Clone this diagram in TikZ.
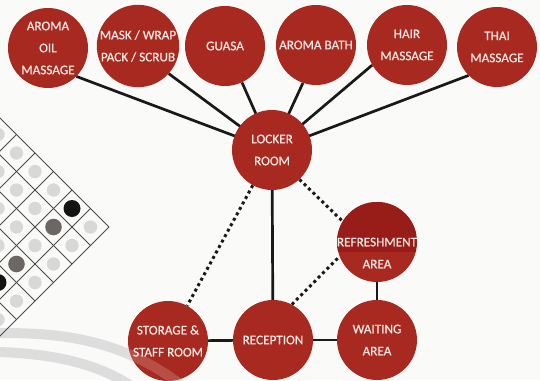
\documentclass[tikz,border=0pt]{standalone}
\usepackage{fontspec}
\newfontfamily\lbl[FakeBold=0.7]{Carlito}
\definecolor{spared}{HTML}{A8291F}
\definecolor{spadark}{HTML}{981C18}
\definecolor{labeltext}{HTML}{F4E6E2}
\definecolor{paper}{HTML}{FAFAF8}
\definecolor{cellgrey}{HTML}{D8D8D8}
\definecolor{stonedark}{HTML}{6C6664}
\definecolor{gridline}{HTML}{4A4A4A}
\definecolor{arcgrey}{HTML}{DDDDDD}
\pgfdeclarelayer{paperlayer}
\pgfdeclarelayer{wires}
\pgfsetlayers{paperlayer,wires,main}
\begin{document}
\begin{tikzpicture}[x=1pt,y=-1pt,
  room/.style={circle, fill=spared, inner sep=0pt, minimum size=80pt,
    text=labeltext, align=center, font=\lbl\fontsize{13.2}{22}\selectfont},
  roomtext/.style={inner sep=0pt, text=labeltext, align=center,
    font=\lbl\fontsize{13.2}{22}\selectfont},
  link/.style={line width=2.7pt, black!90},
  dotlink/.style={line width=3pt, black!90, dash pattern=on 3pt off 3.2pt},
  band/.style={arcgrey, line width=10pt},
]
\useasboundingbox (0,0) rectangle (540,380);
\clip (0,0) rectangle (540,380);

\begin{pgfonlayer}{paperlayer}
  \fill[paper] (0,0) rectangle (540,380);
  % sweeping grey bands, lower left
  \draw[band] (0,333) .. controls (60,333) and (125,338) .. (190,392);
  \draw[band] (0,352) .. controls (50,354) and (100,362) .. (140,392);
  % board of stones, turned 45 degrees
  \begin{scope}[shift={(109,227)}, x={(-18.5pt,18.5pt)}, y={(-18.5pt,-18.5pt)}]
    \foreach \i in {0,...,6}{
      \foreach \j in {0,...,6}{
        \fill[cellgrey] (\i+.5,\j+.5) circle[radius=6.7pt];
      }
    }
    \fill[black!92] (1.5,.5) circle[radius=8.5pt];
    \fill[stonedark] (1.5,1.5) circle[radius=8.3pt];
    \fill[stonedark] (1.5,3.5) circle[radius=8.3pt];
    \fill[black!92] (1.5,4.5) circle[radius=8.5pt];
    \foreach \k in {0,...,7}{
      \draw[gridline, line width=0.8pt] (\k,0) -- (\k,7);
      \draw[gridline, line width=0.8pt] (0,\k) -- (7,\k);
    }
  \end{scope}
\end{pgfonlayer}

% treatment rooms
\node[room] (aoil)  at (48,48)  {AROMA\\OIL\\MASSAGE};
\node[room] (mask)  at (138,46) {MASK / WRAP\\PACK / SCRUB};
\node[room] (guasa) at (225,46) {GUASA};
\node[room] (abath) at (316,45) {AROMA BATH};
\node[room] (hair)  at (407,45) {HAIR\\MASSAGE};
\node[room] (thai)  at (497,47) {THAI\\MASSAGE};

% hub and service areas
\node[room] (locker)    at (272,150) {LOCKER\\ROOM};
\node[room, path picture={
    \fill[spadark] (path picture bounding box.north west) rectangle
      ([yshift=-10pt]path picture bounding box.east);}]
  (refresh) at (377,242) {};
\node[roomtext] (refreshtext) at (377,253) {REFRESHMENT\\AREA};
\node[room] (waiting)   at (377,340) {WAITING\\AREA};
\node[room] (reception) at (273,340) {RECEPTION};
\node[room] (storage)   at (168,341) {STORAGE \&\\STAFF ROOM};

% band showing faintly through the storage room
\begin{scope}
  \clip (storage.center) circle[radius=40pt];
  \draw[white, opacity=.18, line width=10pt]
    (0,333) .. controls (60,333) and (125,338) .. (190,392);
\end{scope}

\begin{pgfonlayer}{wires}
  \draw[link] (locker.center) -- (aoil.-45);
  \draw[link] (locker.center) -- (mask.-42);
  \draw[link] (locker.center) -- (guasa.-65);
  \draw[link] (locker.center) -- (abath.-109);
  \draw[link] (locker.center) -- (hair.-150);
  \draw[link] (locker.center) -- (thai.-135);
  \draw[link] (locker) -- (reception);
  \draw[link] (storage) -- (reception);
  \draw[link] (reception) -- (waiting);
  \draw[link] (refresh) -- (waiting);
  \draw[dotlink] (locker) -- (storage);
  \draw[dotlink] (locker.-47) -- (refresh.149);
  \draw[dotlink] (reception.62) -- (refresh.201);
\end{pgfonlayer}
\end{tikzpicture}
\end{document}
